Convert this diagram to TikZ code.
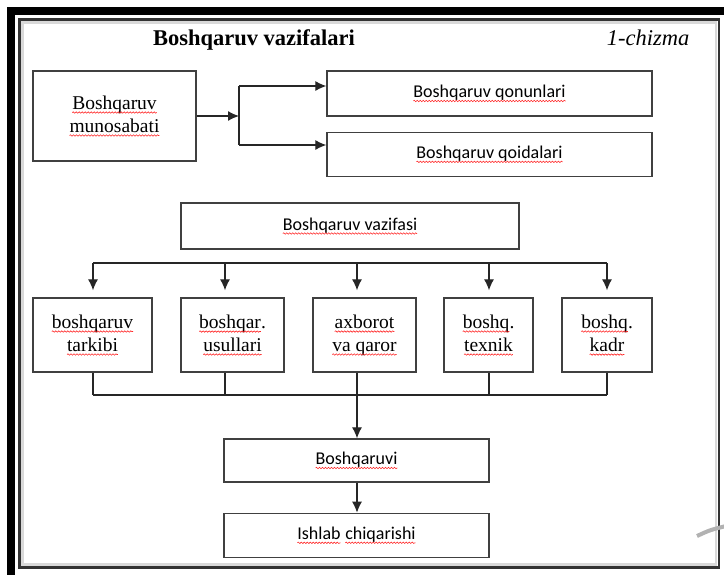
\documentclass[tikz,border=0pt]{standalone}
\usepackage{fontspec}
\setmainfont{Liberation Serif}
\newfontfamily\calibri{Carlito}
\usepackage{tikz}
\usetikzlibrary{positioning,arrows.meta,decorations.pathmorphing}

% red wavy spell-check underline
\newcommand\spell[1]{\tikz[baseline=(w.base)]{%
  \node[draw=none, fill=none, inner sep=0pt, outer sep=0pt, minimum size=0pt, shape=rectangle, anchor=base] (w) {#1};%
  \draw[red!85, line width=0.6pt, decorate, decoration={snake, amplitude=0.7pt, segment length=3pt}]
    ([yshift=-3.5pt]w.base west) -- ([yshift=-3.5pt]w.base east);}}

\begin{document}
\begin{tikzpicture}[x=1pt, y=-1pt]

% Define block styles
\tikzstyle{block} = [draw=black!75, line width=1.3pt, rectangle, inner sep=0pt, align=center]
\tikzstyle{wide} = [block, font=\calibri\fontsize{18}{21}\selectfont]
\tikzstyle{tall} = [block, font=\fontsize{19.5}{23}\selectfont]
\tikzstyle{link} = [draw=black!85, line width=1.2pt]
\tikzstyle{arrow} = [link, -{Latex[length=11pt, width=10pt]}]

% Frame
\useasboundingbox (0,0) rectangle (724,574);
\draw[line width=8pt] (11,11) rectangle (740,590);
\draw[gray!30, line width=2.5pt] (22.5,22.5) rectangle (716,564.5);
\draw[black!80, line width=2.5pt] (19.5,19.5) rectangle (719,567.5);
\draw[gray!60, line width=4pt] (697,536) .. controls (710,530) .. (726,526);

% Nodes
\node[anchor=base, font=\bfseries\fontsize{22.5}{26}\selectfont] (sarlavha) at (254,45) {Boshqaruv vazifalari};
\node[anchor=base east, font=\itshape\fontsize{22.5}{26}\selectfont] (chizma) at (693,45) {1-chizma};

\node[tall, minimum width=163pt, minimum height=90pt] (munosabat) at (114.5,116) {\spell{Boshqaruv}\\\spell{munosabati}};
\node[wide, minimum width=325pt, minimum height=45pt] (qonun) at (489.5,93.5) {\spell{Boshqaruv qonunlari}};
\node[wide, minimum width=325pt, minimum height=44pt, below=15pt of qonun] (qoida) {\spell{Boshqaruv qoidalari}};

\node[wide, minimum width=338pt, minimum height=46pt] (vazifa) at (350,226) {\spell{Boshqaruv vazifasi}};

\node[tall, minimum width=119pt, minimum height=74pt] (tarkib) at (92.5,335) {\spell{boshqaruv}\\\spell{tarkibi}};
\node[tall, minimum width=103pt, minimum height=74pt] (usul) at (232.5,335) {\spell{boshqar}.\\\spell{usullari}};
\node[tall, minimum width=103pt, minimum height=74pt] (axborot) at (364.5,335) {\spell{axborot}\\\spell{va qaror}};
\node[tall, minimum width=89pt, minimum height=74pt] (texnik) at (488.5,335) {\spell{boshq}.\\\spell{texnik}};
\node[tall, minimum width=90pt, minimum height=74pt] (kadr) at (607,335) {\spell{boshq}.\\\spell{kadr}};

\node[wide, minimum width=265pt, minimum height=43pt] (boshqaruvi) at (356.5,460.5) {\spell{Boshqaruvi}};
\node[wide, minimum width=265pt, minimum height=44pt, below=30pt of boshqaruvi] (ishlab) {\spell{Ishlab} \spell{chiqarishi}};

% Connections
\coordinate (tugun) at (239,116);
\coordinate (tugun1) at (239,86);
\coordinate (tugun2) at (239,145);
\draw[arrow] (munosabat.east) -- (tugun);
\draw[link] (tugun1) -- (tugun2);
\draw[arrow] (tugun1) -- (tugun1 -| qonun.west);
\draw[arrow] (tugun2) -- (tugun2 -| qoida.west);

\foreach \x/\b [count=\i] in {93/tarkib, 225/usul, 357/axborot, 489/texnik, 607/kadr} {
  \coordinate (s\i) at (\x,263);
  \coordinate (q\i) at (\x,395);
  \draw[arrow, shorten >=7pt] (s\i) -- (s\i |- \b.north);
  \draw[link] (q\i |- \b.south) -- (q\i);
}
\draw[link] (s1) -- (s5);
\draw[link] (q1) -- (q5);
\draw[arrow] (q3) -- (q3 |- boshqaruvi.north);
\draw[arrow] (q3 |- boshqaruvi.south) -- (q3 |- ishlab.north);

\end{tikzpicture}
\end{document}
